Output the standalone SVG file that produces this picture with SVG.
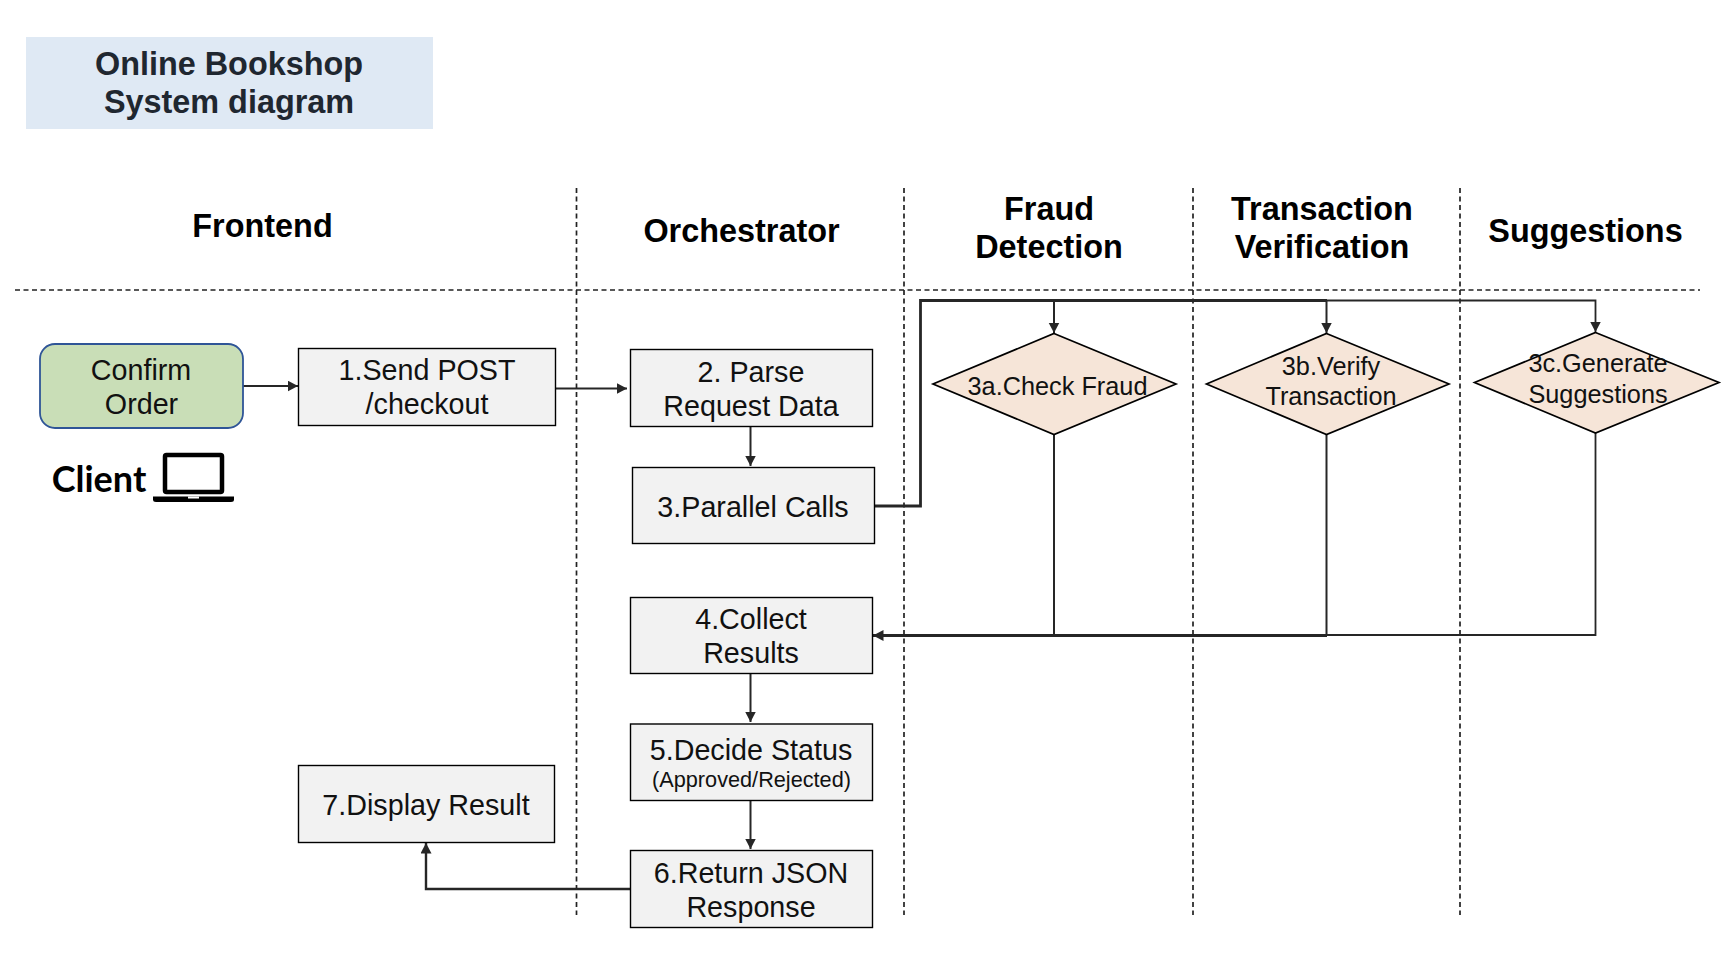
<svg xmlns="http://www.w3.org/2000/svg" width="1724" height="960" viewBox="0 0 1724 960">
<style>
text{font-family:"Liberation Sans",Arial,sans-serif;text-anchor:middle;fill:#111}
.hd{font-size:32.4px;font-weight:700;fill:#000}
.t{font-size:28.7px}
.d{font-size:25.3px}
.s{font-size:21.7px}
.title{font-size:32.4px;font-weight:700;fill:#1f2730}
.box{fill:#f2f2f2;stroke:#000;stroke-width:1.4}
.dia{fill:#f6e5d8;stroke:#000;stroke-width:1.7}
.dash{fill:none;stroke:#222;stroke-width:1.7;stroke-dasharray:5 3.5}
.c{fill:none;stroke:#262626;stroke-width:2}
.thick{stroke-width:2.8}
.mid{stroke-width:2.4}
.thin{stroke-width:1.8}
</style>
<defs>
<marker id="a" markerUnits="userSpaceOnUse" markerWidth="12" markerHeight="12" refX="10.5" refY="5.5" orient="auto"><path d="M0 0L10.5 5.5L0 11Z" fill="#262626"/></marker>
</defs>
<rect width="1724" height="960" fill="#fff"/>
<g id="title"><rect x="26" y="37" width="407" height="92" fill="#dfe9f4"/><text class="title" x="229" y="75">Online Bookshop</text><text class="title" x="229" y="113">System diagram</text></g>
<g id="lanes">
<path class="dash" d="M15 290H1700M576.500 188V915M904 188V915M1193 188V915M1460 188V915"/>
<text class="hd" x="262.500" y="237">Frontend</text>
<text class="hd" x="741.500" y="242">Orchestrator</text>
<text class="hd" x="1049" y="220">Fraud</text><text class="hd" x="1049" y="258">Detection</text>
<text class="hd" x="1322" y="220">Transaction</text><text class="hd" x="1322" y="258">Verification</text>
<text class="hd" x="1585.500" y="242">Suggestions</text>
</g>
<g id="connectors">
<path class="c" marker-end="url(#a)" d="M243 386H298"/>
<path class="c" marker-end="url(#a)" d="M555 388.500H627"/>
<path class="c" marker-end="url(#a)" d="M750.500 427V466"/>
<path class="c thick" d="M875 506H920.500V300.500H1327"/>
<path class="c thin" d="M1327 300.500H1595.500V332" marker-end="url(#a)"/>
<path class="c" marker-end="url(#a)" d="M1054 300.500V333"/>
<path class="c" marker-end="url(#a)" d="M1326.500 300.500V333"/>
<path class="c" d="M1054 434V635.500"/>
<path class="c" d="M1326.500 434V635.500"/>
<path class="c thin" d="M1595.500 433V635H1327"/>
<path class="c thick" marker-end="url(#a)" d="M1327 635.500H873"/>
<path class="c" marker-end="url(#a)" d="M750.500 673V722"/>
<path class="c" marker-end="url(#a)" d="M750.500 800V849"/>
<path class="c mid" marker-end="url(#a)" d="M630 889H426V843"/>
</g>
<g id="confirm-order"><rect x="40" y="344" width="203" height="84" rx="15" fill="#c9deb7" stroke="#2f5597" stroke-width="1.8"/><text class="t" x="141" y="380">Confirm</text><text class="t" x="141.500" y="414">Order</text></g>
<g id="client"><text x="99" y="492" font-size="36" font-weight="700" style="font-family:Lato,'Open Sans',sans-serif;fill:#000">Client</text>
<rect x="165" y="455" width="57" height="37" rx="1.500" fill="none" stroke="#000" stroke-width="4.500"/>
<path d="M153 496.500H234V499.500Q234 502 231 502H156Q153 502 153 499.500Z" fill="#000"/><rect x="188" y="496.500" width="11" height="2" fill="#fff"/></g>
<g id="send-post"><rect class="box" x="298.500" y="348.500" width="257" height="77"/><text class="t" x="427" y="380">1.Send POST</text><text class="t" x="427" y="414">/checkout</text></g>
<g id="parse"><rect class="box" x="630.500" y="349.500" width="242" height="77"/><text class="t" x="751" y="381.500">2. Parse</text><text class="t" x="751" y="415.500">Request Data</text></g>
<g id="parallel"><rect class="box" x="632.500" y="467.500" width="242" height="76"/><text class="t" x="753" y="517">3.Parallel Calls</text></g>
<g id="collect"><rect class="box" x="630.500" y="597.500" width="242" height="76"/><text class="t" x="751" y="628.500">4.Collect</text><text class="t" x="751" y="662.500">Results</text></g>
<g id="decide"><rect class="box" x="630.500" y="724" width="242" height="76.500"/><text class="t" x="751" y="759.500">5.Decide Status</text><text class="s" x="751.500" y="787">(Approved/Rejected)</text></g>
<g id="return"><rect class="box" x="630.500" y="850.500" width="242" height="77"/><text class="t" x="751" y="882.500">6.Return JSON</text><text class="t" x="751" y="916.500">Response</text></g>
<g id="display"><rect class="box" x="298.500" y="765.500" width="256" height="77"/><text class="t" x="426" y="814.500">7.Display Result</text></g>
<g id="check-fraud"><path class="dia" d="M1054 333.500L1176 384L1054 434.500L933 384Z"/><text class="d" x="1057.500" y="395">3a.Check Fraud</text></g>
<g id="verify"><path class="dia" d="M1326.500 333.500L1449 384L1326.500 434.500L1206.500 384Z"/><text class="d" x="1331" y="375">3b.Verify</text><text class="d" x="1331" y="405">Transaction</text></g>
<g id="generate"><path class="dia" d="M1595.500 332.500L1719 382.500L1595.500 433L1474.500 382.500Z"/><text class="d" x="1598" y="372">3c.Generate</text><text class="d" x="1598" y="403">Suggestions</text></g>
</svg>
